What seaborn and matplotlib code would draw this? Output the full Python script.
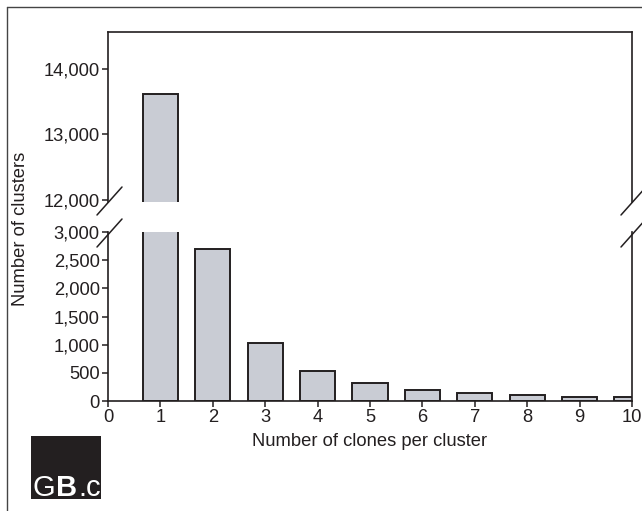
import numpy as np
import pandas as pd
import matplotlib
matplotlib.use("Agg")
import matplotlib.pyplot as plt
from matplotlib.ticker import FuncFormatter
from matplotlib.lines import Line2D
from matplotlib.patches import Rectangle
import seaborn as sns

# data
clones = [1, 2, 3, 4, 5, 6, 7, 8, 9, 10]
clusters = [13610, 2700, 1030, 540, 315, 190, 145, 115, 75, 70]
upper_ticks = [12000, 13000, 14000]
lower_ticks = [0, 500, 1000, 1500, 2000, 2500, 3000]
x_ticks = list(range(0, 11))

df = pd.DataFrame({"clones": clones, "clusters": clusters})

sns.set_style("white")
plt.rcParams["font.family"] = ["Liberation Sans", "DejaVu Sans"]
ink = "#231f20"
bar_fill = "#c9ccd4"
fs = 13.2

fig = plt.figure(figsize=(6.42, 5.11), dpi=100)
L, R = 108 / 642, 632 / 642
ax_top = fig.add_axes([L, 1 - 202 / 511, R - L, (202 - 32) / 511])
ax_bot = fig.add_axes([L, 1 - 401 / 511, R - L, (401 - 232) / 511])

for ax in (ax_top, ax_bot):
    sns.barplot(data=df, x="clones", y="clusters", native_scale=True, width=0.67,
                color=bar_fill, saturation=1, edgecolor=ink, linewidth=1.4, ax=ax)
    ax.set_xlim(0, 10)
    ax.set_xlabel("")
    ax.set_ylabel("")
    for s in ax.spines.values():
        s.set_color(ink)
        s.set_linewidth(1.2)
    ax.tick_params(axis="y", direction="out", length=4, width=1.1, color=ink,
                   labelsize=fs, labelcolor=ink, pad=2, left=True)
    ax.yaxis.set_major_formatter(FuncFormatter(lambda v, p: f"{int(v):,}"))

ax_top.set_ylim(11970, 14560)
ax_top.set_yticks(upper_ticks)
ax_top.spines["bottom"].set_visible(False)
ax_top.tick_params(axis="x", bottom=False, labelbottom=False)

ax_bot.set_ylim(0, 2960)
ax_bot.set_yticks(lower_ticks)
ax_bot.spines["top"].set_visible(False)
ax_bot.set_xticks(x_ticks)
ax_bot.set_xticklabels([str(t) for t in x_ticks])
ax_bot.tick_params(axis="x", direction="out", length=4, width=1.1, color=ink,
                   labelsize=fs, labelcolor=ink, pad=2, bottom=True)
ax_bot.set_xlabel("Number of clones per cluster", fontsize=fs, color=ink, labelpad=5)

# break marks on both sides
def px(x, y):
    return (x / 642, 1 - y / 511)

for xc in (108, 632):
    for y0 in (215, 247):
        (x1, y1), (x2, y2) = px(xc - 11, y0), px(xc + 14, y0 - 28)
        fig.add_artist(Line2D([x1, x2], [y1, y2], color=ink, lw=1.1))

fig.text(21 / 642, 1 - 229 / 511, "Number of clusters", rotation=90,
         ha="center", va="center", fontsize=fs, color=ink)

# outer frame (top and left)
fig.add_artist(Line2D([7 / 642, 1], [1 - 7 / 511, 1 - 7 / 511], color="#444444", lw=1.0))
fig.add_artist(Line2D([7 / 642, 7 / 642], [1 - 7 / 511, 0], color="#444444", lw=1.0))

# logo
x0, y0b, w, h = 31 / 642, 1 - 499 / 511, 70 / 642, 63 / 511
fig.add_artist(Rectangle((x0, y0b), w, h, facecolor="#231f20", edgecolor="none"))
clip = Rectangle((x0, y0b), w, h, transform=fig.transFigure)
base = 1 - 496 / 511
t1 = fig.text(32 / 642, base, "G", color="white", fontsize=21, va="baseline", ha="left")
t2 = fig.text(56 / 642, base, "B", color="white", fontsize=21, fontweight="bold",
              va="baseline", ha="left")
t3 = fig.text(78 / 642, base, ".", color="white", fontsize=21, va="baseline", ha="left")
t4 = fig.text(86 / 642, base, "c", color="white", fontsize=21, va="baseline", ha="left")
for t in (t1, t2, t3, t4):
    t.set_clip_path(clip)

fig.savefig("out.png", dpi=100)
